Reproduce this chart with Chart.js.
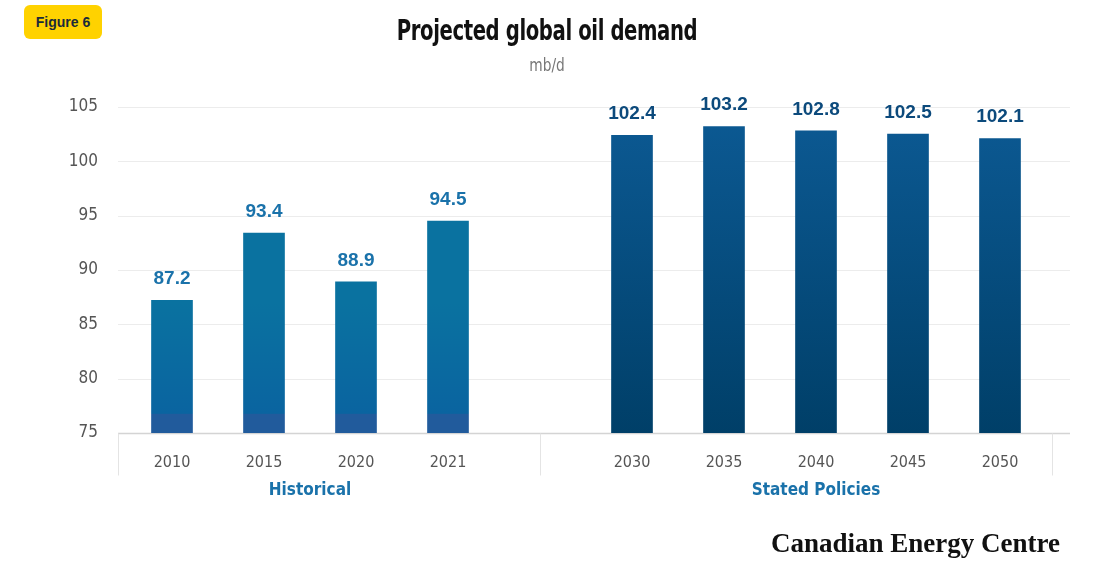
<!DOCTYPE html>
<html>
<head>
<meta charset="utf-8">
<script src="https://cdn.jsdelivr.net/npm/chart.js@4"></script>
<style>
  body { margin: 0; background: #fff; width: 1094px; height: 583px; position: relative; overflow: hidden; }
  #wrap { position: absolute; left: 0; top: 0; width: 1094px; height: 583px; }
  .badge { position: absolute; left: 24px; top: 5px; width: 78px; height: 34px; background: #ffd200; border-radius: 6px;
           font: bold 14px "Liberation Sans", Arial, sans-serif; color: #1a2a3a; text-align: center; line-height: 34px; }
  .title { position: absolute; left: 0; width: 1094px; top: 14px; text-align: center; transform: scaleX(0.78);
           font: bold 28px "Liberation Sans Narrow", "DejaVu Sans Condensed", sans-serif; color: #111; letter-spacing: -0.5px; }
  .unit { position: absolute; left: 0; width: 1094px; top: 54px; text-align: center; transform: scaleX(0.85);
          font: 18px "Liberation Sans Narrow", "DejaVu Sans Condensed", sans-serif; color: #777; }
  .brand { position: absolute; right: 34px; top: 528px; font: bold 27px "Liberation Serif", "DejaVu Serif", serif; color: #111; }
</style>
</head>
<body>
<div id="wrap"><canvas id="c" width="1094" height="583"></canvas></div>
<div class="badge">Figure 6</div>
<div class="title">Projected global oil demand</div>
<div class="unit">mb/d</div>
<div class="brand">Canadian Energy Centre</div>
<script>
// Datos del gráfico
const years = ['2010', '2015', '2020', '2021', '', '2030', '2035', '2040', '2045', '2050'];
const demand = [87.2, 93.4, 88.9, 94.5, null, 102.4, 103.2, 102.8, 102.5, 102.1];
const projected = [false, false, false, false, false, true, true, true, true, true];
const yTicks = [75, 80, 85, 90, 95, 100, 105];

const narrow = '"Liberation Sans Narrow", "DejaVu Sans Condensed", sans-serif';

/**
 * Degradado de cada barra según su grupo
 */
function barColor(context) {
    const chart = context.chart;
    const area = chart.chartArea;
    if (!area) return '#0a72a0';
    const g = chart.ctx.createLinearGradient(0, area.top, 0, area.bottom);
    if (projected[context.dataIndex]) {
        g.addColorStop(0, '#0c5a94');
        g.addColorStop(1, '#003f68');
    } else {
        g.addColorStop(0, '#0a72a0');
        g.addColorStop(0.6, '#0a72a0');
        g.addColorStop(0.94, '#0a64a0');
        g.addColorStop(0.941, '#215b9c');
        g.addColorStop(1, '#215b9c');
    }
    return g;
}

// Cuadrícula, separadores y etiquetas de grupo
const decorPlugin = {
    id: 'decor',
    beforeDatasetsDraw(chart) {
        const ctx = chart.ctx;
        const y = chart.scales.y;
        const x = chart.scales.x;
        ctx.save();
        ctx.strokeStyle = '#ececec';
        ctx.lineWidth = 1;
        yTicks.slice(1).forEach(v => {
            const py = Math.round(y.getPixelForValue(v)) + 0.5;
            ctx.beginPath(); ctx.moveTo(118, py); ctx.lineTo(1070, py); ctx.stroke();
        });
        const base = Math.round(y.getPixelForValue(75)) + 0.5;
        ctx.strokeStyle = '#d4d4d4';
        ctx.lineWidth = 1.5;
        ctx.beginPath(); ctx.moveTo(118, base); ctx.lineTo(1070, base); ctx.stroke();
        ctx.strokeStyle = '#e4e4e4';
        ctx.lineWidth = 1;
        const mid = x.getPixelForValue(4);
        [118.5, Math.round(mid) + 0.5, 1052.5].forEach(px => {
            ctx.beginPath(); ctx.moveTo(px, base); ctx.lineTo(px, base + 42); ctx.stroke();
        });
        ctx.fillStyle = '#1a72aa';
        ctx.font = 'bold 17px ' + narrow;
        ctx.textAlign = 'center';
        ctx.textBaseline = 'middle';
        ctx.fillText('Historical', (x.getPixelForValue(1) + x.getPixelForValue(2)) / 2, base + 57);
        ctx.fillText('Stated Policies', x.getPixelForValue(7), base + 57);
        ctx.restore();
    },
    afterDatasetsDraw(chart) {
        const ctx = chart.ctx;
        const meta = chart.getDatasetMeta(0);
        ctx.save();
        ctx.font = 'bold 19px "Liberation Sans", Arial, sans-serif';
        ctx.textAlign = 'center';
        ctx.textBaseline = 'bottom';
        meta.data.forEach((bar, i) => {
            if (demand[i] === null) return;
            ctx.fillStyle = projected[i] ? '#0c4a7c' : '#1a72aa';
            ctx.fillText(demand[i].toFixed(1), bar.x, bar.y - 12);
        });
        ctx.restore();
    }
};

new Chart(document.getElementById('c'), {
    type: 'bar',
    data: {
        labels: years,
        datasets: [{
            data: demand,
            backgroundColor: barColor,
            barThickness: 41
        }]
    },
    options: {
        responsive: false,
        animation: false,
        layout: { padding: { top: 107, right: 48, left: 0, bottom: 0 } },
        plugins: { legend: { display: false }, tooltip: { enabled: false } },
        scales: {
            x: {
                grid: { display: false },
                border: { display: false },
                ticks: { color: '#555', font: { size: 16, family: narrow }, padding: 12 },
                afterFit(scale) { scale.height = 150; }
            },
            y: {
                min: 75, max: 105,
                grid: { display: false },
                border: { display: false },
                afterBuildTicks(scale) { scale.ticks = yTicks.map(v => ({ value: v })); },
                ticks: { color: '#555', font: { size: 17, family: narrow }, padding: 20 },
                afterFit(scale) { scale.width = 126; }
            }
        }
    },
    plugins: [decorPlugin]
});
</script>
</body>
</html>
